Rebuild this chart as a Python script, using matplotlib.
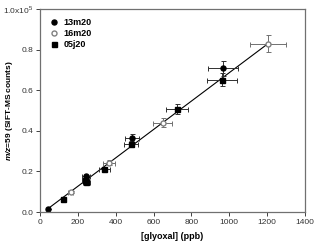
import numpy as np
import matplotlib
matplotlib.use("Agg")
import matplotlib.pyplot as plt
from matplotlib.ticker import FixedLocator, FixedFormatter

plt.rcParams["font.family"] = ["Liberation Sans", "DejaVu Sans"]
plt.rcParams["mathtext.fontset"] = "custom"
plt.rcParams["mathtext.rm"] = "Liberation Sans"
plt.rcParams["mathtext.bfit"] = "Liberation Sans:italic:bold"

# 13m20 (filled circles)
x_13m20 = [40, 242, 486, 968]
y_13m20 = [0.015, 0.175, 0.365, 0.708]
xe_13m20 = [3, 20, 39, 79]
ye_13m20 = [0.002, 0.009, 0.018, 0.036]

# 16m20 (open circles)
x_16m20 = [162, 365, 648, 1204]
y_16m20 = [0.098, 0.243, 0.44, 0.829]
xe_16m20 = [13, 30, 52, 97]
ye_16m20 = [0.005, 0.012, 0.022, 0.042]

# 05j20 (filled squares)
x_05j20 = [120, 240, 245, 340, 481, 725, 963]
y_05j20 = [0.065, 0.16, 0.15, 0.21, 0.335, 0.507, 0.652]
xe_05j20 = [10, 20, 20, 28, 39, 58, 78]
ye_05j20 = [0.003, 0.008, 0.008, 0.010, 0.017, 0.025, 0.033]

# linear fit
slope = 6.99e-4
intercept = -0.013
fit_x = [40, 1204]

fig = plt.figure(figsize=(3.2, 2.48), dpi=100)
ax = fig.add_axes([0.125, 0.145, 0.828, 0.819])

fx = np.array(fit_x)
ax.plot(fx, slope * fx + intercept, color="black", lw=0.8, zorder=2)

eb = dict(capsize=1.8, elinewidth=0.7, capthick=0.7, ls="none")
ax.errorbar(x_16m20, y_16m20, xerr=xe_16m20, yerr=ye_16m20, fmt="o", ms=3.6,
            mfc="white", mec="#808080", ecolor="#707070", label="16m20", **eb)
ax.errorbar(x_13m20, y_13m20, xerr=xe_13m20, yerr=ye_13m20, fmt="o", ms=3.6,
            color="black", ecolor="#303030", label="13m20", **eb)
ax.errorbar(x_05j20, y_05j20, xerr=xe_05j20, yerr=ye_05j20, fmt="s", ms=3.6,
            color="black", ecolor="#303030", label="05j20", **eb)

ax.set_xlim(0, 1400)
ax.set_ylim(0, 1.0)
ax.xaxis.set_major_locator(FixedLocator([0, 200, 400, 600, 800, 1000, 1200, 1400]))
ax.yaxis.set_major_locator(FixedLocator([0.0, 0.2, 0.4, 0.6, 0.8, 1.0]))
ax.yaxis.set_major_formatter(FixedFormatter(["0.0", "0.2", "0.4", "0.6", "0.8", "1.0x10$^5$"]))
ax.tick_params(labelsize=6, length=3, width=0.7, color="#404040", labelcolor="#333333", pad=2)

for s in ax.spines.values():
    s.set_color("#707070")
    s.set_linewidth(0.9)

ax.set_xlabel("[glyoxal] (ppb)", fontsize=6.5, fontweight="bold", labelpad=4)
ax.set_ylabel(r"$\mathbfit{m/z}$=59 (SIFT-MS counts)", fontsize=6, fontweight="bold")
ax.yaxis.set_label_coords(-0.095, 0.5)

h, l = ax.get_legend_handles_labels()
order = [1, 0, 2]
leg = ax.legend([h[i][0] for i in order], [l[i] for i in order], loc="upper left",
                frameon=False, prop={"weight": "bold", "size": 6.5},
                handletextpad=0.6, borderaxespad=0.6, labelspacing=0.25,
                handlelength=1.0)

fig.savefig("out.png", dpi=100)
